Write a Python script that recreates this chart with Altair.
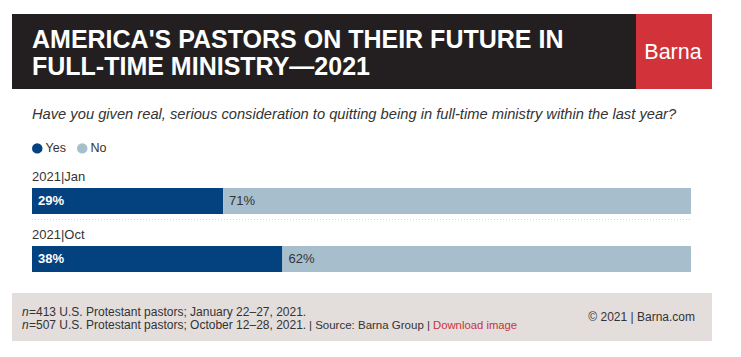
import altair as alt
import pandas as pd

# ---- data ----
periods = ["2021|Jan", "2021|Oct"]
yes_vals = [29, 38]
no_vals = [71, 62]
answers = ["Yes", "No"]
colors = ["#03427f", "#a7bfcc"]

title_lines = ["AMERICA'S PASTORS ON THEIR FUTURE IN", "FULL-TIME MINISTRY\u20142021"]
question = "Have you given real, serious consideration to quitting being in full-time ministry within the last year?"
foot1 = "=413 U.S. Protestant pastors; January 22\u201327, 2021."
foot2a = "=507 U.S. Protestant pastors; October 12\u201328, 2021."
foot2b = "| Source: Barna Group |"
foot_link = "Download image"
foot_right = "\u00a9 2021 |   Barna.com"

rows = []
for p, y, n in zip(periods, yes_vals, no_vals):
    rows.append({"period": p, "answer": "Yes", "value": y, "start": 0, "end": y, "label": f"{y}%"})
    rows.append({"period": p, "answer": "No", "value": n, "start": y, "end": y + n, "label": f"{n}%"})
df = pd.DataFrame(rows)
dummy = pd.DataFrame({"a": [0]})

FONT = "Liberation Sans"
W, H = 741, 357

xs = alt.Scale(domain=[0, 100], range=[32, 691])
ys = alt.Scale(domain=periods, range=[188, 272], paddingInner=32 / 58, paddingOuter=0)

bars = alt.Chart(df).mark_bar(cornerRadius=0).encode(
    x=alt.X("start:Q", scale=xs, axis=None),
    x2="end:Q",
    y=alt.Y("period:N", scale=ys, axis=None),
    color=alt.Color(
        "answer:N",
        scale=alt.Scale(domain=answers, range=colors),
        legend=alt.Legend(
            orient="none", legendX=31, legendY=142, direction="horizontal",
            title=None, symbolType="circle", symbolSize=110, symbolStrokeWidth=0,
            labelFont=FONT, labelFontSize=12.5, labelColor="#333333",
            columnPadding=10, symbolOffset=0, labelOffset=2, padding=0,
        ),
    ),
)

yes_lbl = alt.Chart(df[df.answer == "Yes"]).mark_text(
    align="left", baseline="middle", dx=6, font=FONT, fontSize=13, fontWeight="bold", color="white"
).encode(x=alt.X("start:Q", scale=xs), y=alt.Y("period:N", scale=ys, bandPosition=0.5), text="label:N")

no_lbl = alt.Chart(df[df.answer == "No"]).mark_text(
    align="left", baseline="middle", dx=6, font=FONT, fontSize=13, color="#333333"
).encode(x=alt.X("start:Q", scale=xs), y=alt.Y("period:N", scale=ys, bandPosition=0.5), text="label:N")

per_lbl = alt.Chart(pd.DataFrame({"period": periods})).mark_text(
    align="left", baseline="alphabetic", dy=-7, font=FONT, fontSize=13, color="#333333"
).encode(x=alt.value(32), y=alt.Y("period:N", scale=ys, bandPosition=0), text="period:N")

sep = alt.Chart(dummy).mark_rule(color="#e6cfcf", strokeDash=[1, 2], strokeWidth=1).encode(
    x=alt.value(32), x2=alt.value(691), y=alt.value(219.5)
)

def rect(x1, x2, y1, y2, color):
    return alt.Chart(dummy).mark_rect(color=color).encode(
        x=alt.value(x1), x2=alt.value(x2), y=alt.value(y1), y2=alt.value(y2)
    )

def txt(s, x, y, size, color="#333333", weight="normal", style="normal", align="left", font=FONT):
    return alt.Chart(dummy).mark_text(
        text=s, align=align, baseline="alphabetic", font=font, fontSize=size,
        fontWeight=weight, fontStyle=style, color=color
    ).encode(x=alt.value(x), y=alt.value(y))

header = rect(12, 636, 14, 89, "#231f20")
red = rect(636, 712, 14, 89, "#d2323a")
footer_bg = rect(12, 712, 293, 341, "#e3dddc")

t1 = txt(title_lines[0], 32, 48, 25, color="white", weight="bold")
t2 = txt(title_lines[1], 32, 75, 25, color="white", weight="bold")
barna = txt("Barna", 673, 59, 21.5, color="white", align="center")
q = txt(question, 32, 119, 14.7, color="#333333", style="italic")

f1n = txt("n", 22, 316, 12, style="italic")
f1 = txt(foot1, 29, 316, 12)
f2n = txt("n", 22, 329, 12, style="italic")
f2a = txt(foot2a, 29, 329, 12)
f2b = txt(foot2b, 430, 329, 11.5, align="right")
f2link = txt(foot_link, 433, 329, 11.3, color="#c9343a")
fr = txt(foot_right, 695, 321, 12, align="right")

chart = alt.layer(
    header, red, t1, t2, barna, q, sep, bars, yes_lbl, no_lbl, per_lbl,
    footer_bg, f1n, f1, f2n, f2a, f2b, f2link, fr
).properties(
    width=W, height=H, padding=0, autosize=alt.AutoSizeParams(type="none"), background="white"
).configure_view(stroke=None)

chart.save("out.html", embed_options={"renderer": "svg", "actions": False})
